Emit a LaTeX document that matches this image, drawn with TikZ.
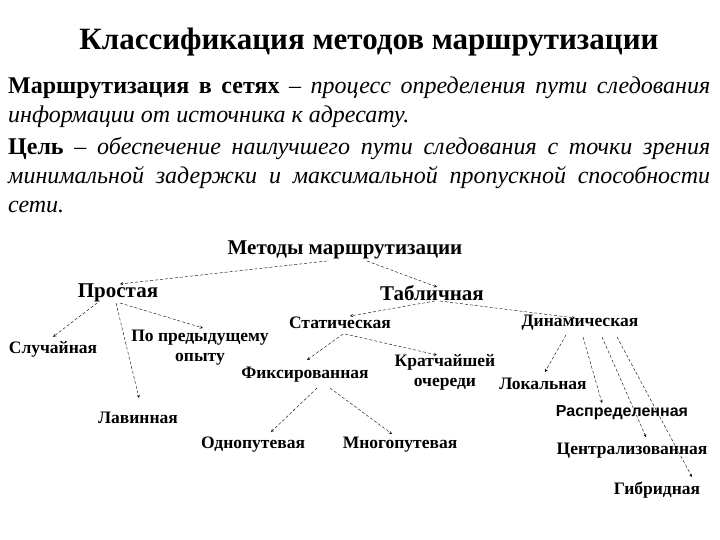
\documentclass[tikz,border=0pt]{standalone}
\usepackage{fontspec}
\setmainfont{Liberation Serif}
\newfontfamily\lsans{Liberation Sans}
\usetikzlibrary{calc}
\begin{document}
\begin{tikzpicture}[x=1pt,y=-1pt,
  arr/.style={densely dashed,thin,-stealth},
  big/.style={font=\bfseries\fontsize{21}{23}\selectfont,inner sep=1pt},
  sm/.style={font=\bfseries\fontsize{17.5}{20}\selectfont,inner sep=1pt,align=center}]
\useasboundingbox (0,0) rectangle (720,540);
\node[font=\bfseries\fontsize{31}{34}\selectfont] (title) at (369,42) {Классификация методов маршрутизации};
\node[anchor=north west,inner sep=0pt,text width=702pt,align=justify,font=\fontsize{24}{29}\selectfont] (txt) at (8,77)
 {\textbf{Маршрутизация в сетях} – \textit{процесс определения пути следования информации от источника к адресату.}\par\vspace{3pt}
 \textbf{Цель} – \textit{обеспечение наилучшего пути следования с точки зрения минимальной задержки и максимальной пропускной способности сети.}\par};
\node[font=\bfseries\fontsize{21}{23}\selectfont,inner sep=1pt] (m) at (345,250) {Методы маршрутизации};
\node[big] (p) at (118,293) {Простая};
\node[big] (t) at (432,293) {Табличная};
\node[sm] (st) at (340,323) {Статическая};
\node[sm] (d) at (580,323) {Динамическая};
\node[sm] (sl) at (53,349) {Случайная};
\node[sm] (pp) at (200,348) {По предыдущему\\опыту};
\node[sm] (l) at (138,418) {Лавинная};
\node[sm] (f) at (305,375) {Фиксированная};
\node[sm] (k) at (445,372) {Кратчайшей\\очереди};
\node[sm] (lo) at (543,384) {Локальная};
\node[sm,font=\lsans\bfseries\fontsize{16}{18}\selectfont] (r) at (622,413) {Распределенная};
\node[sm] (c) at (632,451) {Централизованная};
\node[sm] (o) at (253,445) {Однопутевая};
\node[sm] (mn) at (400,445) {Многопутевая};
\node[sm] (g) at (657,490) {Гибридная};
\coordinate (ma) at (327,261); \coordinate (mb) at (367,261);
\coordinate (pa) at (97,303); \coordinate (pb) at (116,303); \coordinate (pc) at (120,303);
\coordinate (ta) at (435,301); \coordinate (tb) at (440,301);
\coordinate (sa) at (343,334); \coordinate (sb) at (345,334);
\coordinate (da) at (566,335); \coordinate (db) at (583,337); \coordinate (dc) at (602,337); \coordinate (dd) at (617,337);
\coordinate (fa) at (317,388); \coordinate (fb) at (330,388);
\draw[arr] (ma) -- (120,284) coordinate (p1);
\draw[arr] (mb) -- (437,287) coordinate (t1);
\draw[arr] (pa) -- ($(sl.north)+(0,-3)$);
\draw[arr] (pb) -- (139,398) coordinate (l1);
\draw[arr] (pc) -- (203,328) coordinate (pp1);
\draw[arr] (ta) -- (350,316) coordinate (st1);
\draw[arr] (tb) -- (575,318) coordinate (d1);
\draw[arr] (sa) -- (307,360) coordinate (f1);
\draw[arr] (sb) -- (437,355) coordinate (k1);
\draw[arr] (da) -- (545,372) coordinate (lo1);
\draw[arr] (db) -- (602,403) coordinate (r1);
\draw[arr] (dc) -- (646,437) coordinate (c1);
\draw[arr] (dd) -- (692,477) coordinate (g1);
\draw[arr] (fa) -- (271,432) coordinate (o1);
\draw[arr] (fb) -- (392,434) coordinate (mn1);
\end{tikzpicture}
\end{document}
